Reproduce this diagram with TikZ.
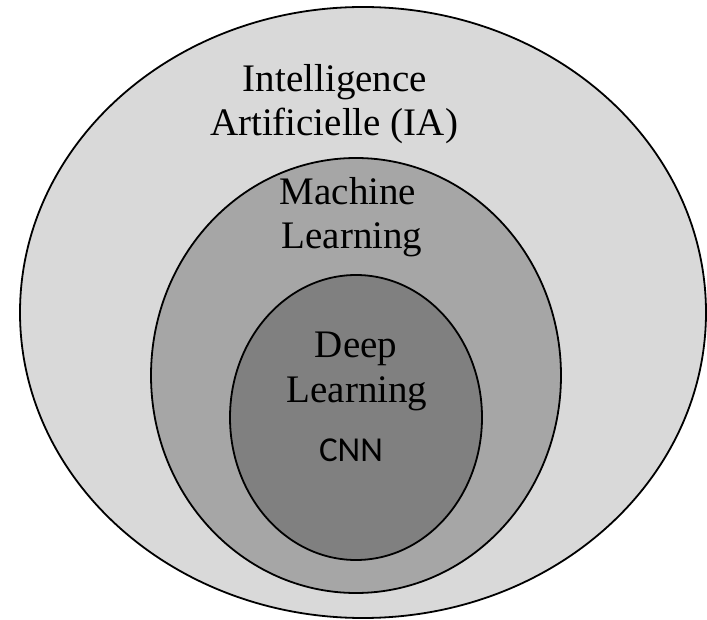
\documentclass[tikz,border=0pt]{standalone}
\usepackage{fontspec}
\setmainfont{Liberation Serif}
\newfontfamily\cnnfont{Carlito}
\definecolor{outerfill}{HTML}{D9D9D9}
\definecolor{midfill}{HTML}{A6A6A6}
\definecolor{innerfill}{HTML}{808080}
\tikzset{
  ring/.style={draw=black, line width=1.8pt},
  lbl/.style={anchor=base, inner sep=0pt, font=\fontsize{39}{44}\selectfont},
  cnnlbl/.style={anchor=base, inner sep=0pt, font=\cnnfont\fontsize{35}{40}\selectfont},
}
\begin{document}
\begin{tikzpicture}[x=1pt,y=-1pt]
\useasboundingbox (0,0) rectangle (707,620);
\begin{scope}
\clip (0,0) rectangle (707,620);
\draw[ring, fill=outerfill] (363,312.5) ellipse [x radius=343, y radius=305.5];
\draw[ring, fill=midfill] (356,375.5) ellipse [x radius=205, y radius=217.5];
\draw[ring, fill=innerfill] (356,417.5) ellipse [x radius=126, y radius=142.5];
\end{scope}
\node[lbl] (ia1) at (335,92) {Intelligence};
\node[lbl] (ia2) at (334,136) {Artificielle (IA)};
\node[lbl] (ml1) at (348,205) {Machine};
\node[lbl] (ml2) at (352,249) {Learning};
\node[lbl] (dl1) at (356,357) {Deep};
\node[lbl] (dl2) at (357,402) {Learning};
\node[cnnlbl] (cnn) at (351,461) {CNN};
\end{tikzpicture}
\end{document}
